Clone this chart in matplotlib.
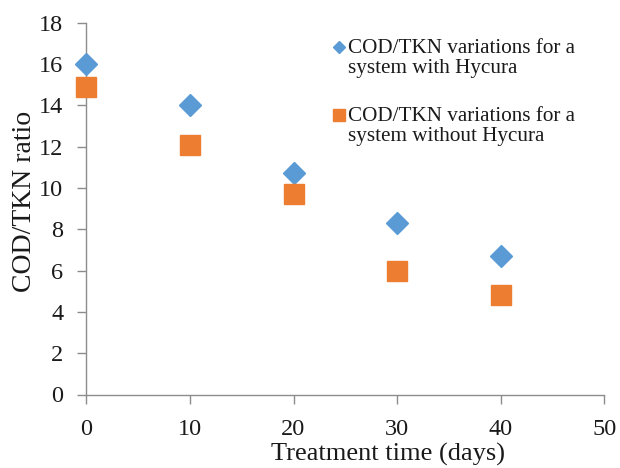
import matplotlib
matplotlib.use("Agg")
import numpy as np
import matplotlib.pyplot as plt
from matplotlib.legend_handler import HandlerLine2D

days = [0, 10, 20, 30, 40]
with_hycura = [16.0, 14.0, 10.7, 8.3, 6.7]
without_hycura = [14.9, 12.1, 9.7, 6.0, 4.8]
x_ticks = [0, 10, 20, 30, 40, 50]
y_ticks = [0, 2, 4, 6, 8, 10, 12, 14, 16, 18]
labels = ["COD/TKN variations for a\nsystem with Hycura",
          "COD/TKN variations for a\nsystem without Hycura"]

plt.rcParams['font.family'] = ['Liberation Serif', 'DejaVu Serif']


class FirstLineHandler(HandlerLine2D):
    """Place the legend marker level with the first line of a two-line label."""
    def __init__(self, dy, **kw):
        super().__init__(**kw)
        self.dy = dy

    def create_artists(self, legend, orig_handle, xdescent, ydescent, width,
                       height, fontsize, trans):
        arts = super().create_artists(legend, orig_handle, xdescent, ydescent,
                                      width, height, fontsize, trans)
        for a in arts:
            a.set_ydata(np.asarray(a.get_ydata(), dtype=float) + self.dy)
        return arts


W, H = 620, 468
L, R, T, B = 86.3, 604.3, 22.7, 394.5
fig = plt.figure(figsize=(W/100, H/100), dpi=100)
ax = fig.add_axes([L/W, 1 - B/H, (R - L)/W, (B - T)/H])

blue = '#5B9BD5'
orange = '#ED7D31'
txt = '#1a1a1a'
h1, = ax.plot(days, with_hycura, linestyle='none', marker='D', ms=10.7,
              color=blue, mec=blue, label=labels[0], zorder=3, clip_on=False)
h2, = ax.plot(days, without_hycura, linestyle='none', marker='s', ms=15,
              color=orange, mec=orange, label=labels[1], zorder=3, clip_on=False)

ax.set_xlim(0, 50)
ax.set_ylim(0, 18)
ax.set_xticks(x_ticks)
ax.set_yticks(y_ticks)
for s in ['top', 'right']:
    ax.spines[s].set_visible(False)
for s in ['left', 'bottom']:
    ax.spines[s].set_color('#8c8c8c')
    ax.spines[s].set_linewidth(1.0)
ax.tick_params(axis='both', direction='out', length=6.5, width=1.0, color='#8c8c8c',
               labelsize=17.5, labelcolor=txt)
ax.tick_params(axis='x', pad=11)
ax.tick_params(axis='y', pad=10)
ax.set_xlabel('Treatment time (days)', fontsize=19, color=txt)
ax.set_ylabel('COD/TKN ratio', fontsize=20, color=txt)
ax.xaxis.set_label_coords(0.583, -0.130)
ax.yaxis.set_label_coords(-0.095, 0.518)

leg = ax.legend(handles=[h1, h2], loc='upper left', bbox_to_anchor=(0.4595, 0.98),
                frameon=False, fontsize=15.2, markerscale=0.55, handlelength=0.6,
                handletextpad=0.12, labelspacing=1.37, borderaxespad=0,
                handler_map={h1: FirstLineHandler(8.0), h2: FirstLineHandler(8.0)})
for t in leg.get_texts():
    t.set_color(txt)
    t.set_linespacing(1.1)

fig.savefig('out.png', dpi=100)
